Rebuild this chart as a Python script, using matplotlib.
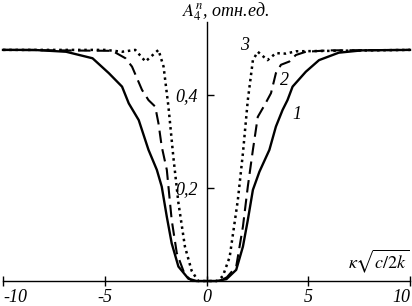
import matplotlib
matplotlib.use("Agg")
import matplotlib.pyplot as plt

plt.rcParams['mathtext.fontset'] = 'stix'

x1 = [-10, -8.5, -6.9, -5.6, -4.8, -4.15, -3.82, -3.33, -2.85, -2.44, -2.2, -1.95, -1.71, -1.38, -0.89, -0.5, 0,
      0.5, 0.98, 1.46, 1.79, 2.03, 2.28, 2.6, 3.09, 3.41, 3.74, 3.98, 4.23, 4.88, 5.53, 6.5, 7.64, 10]
y1 = [0.497, 0.497, 0.493, 0.479, 0.447, 0.418, 0.382, 0.346, 0.282, 0.239, 0.203, 0.138, 0.081, 0.031, 0.005, 0.0, 0.0,
      0.0, 0.004, 0.024, 0.074, 0.131, 0.196, 0.235, 0.282, 0.332, 0.368, 0.389, 0.418, 0.45, 0.475, 0.491, 0.496, 0.497]

x2 = [-10, -4.63, -3.98, -3.66, -3.17, -2.85, -2.52, -2.36, -2.2, -1.95, -1.71, -1.46, -1.06, -0.7, 0,
      0.65, 1.0, 1.46, 1.79, 2.03, 2.28, 2.52, 2.85, 3.17, 3.41, 3.66, 4.07, 4.39, 4.88, 6, 10]
y2 = [0.497, 0.495, 0.479, 0.461, 0.411, 0.389, 0.375, 0.339, 0.289, 0.239, 0.131, 0.06, 0.013, 0.0, 0.0,
      0.0, 0.008, 0.031, 0.117, 0.203, 0.282, 0.353, 0.378, 0.404, 0.447, 0.465, 0.472, 0.486, 0.493, 0.496, 0.497]

x3 = [-10, -4.96, -4.15, -3.5, -3.0, -2.36, -2.11, -1.87, -1.63, -1.38, -1.06, -0.73, -0.41, 0,
      0.5, 0.8, 1.14, 1.54, 1.79, 2.03, 2.28, 2.52, 3.0, 3.41, 3.9, 4.39, 10]
y3 = [0.497, 0.497, 0.493, 0.497, 0.472, 0.497, 0.461, 0.375, 0.267, 0.168, 0.074, 0.022, 0.0, 0.0,
      0.0, 0.01, 0.052, 0.174, 0.275, 0.389, 0.475, 0.493, 0.475, 0.49, 0.489, 0.494, 0.497]

xticks = [-10, -5, 0, 5, 10]
xticklabels = ['-10', '-5', '0', '5', '10']
yticks = [0.2, 0.4]
yticklabels = ['0,2', '0,4']
curve_labels = ['1', '2', '3']
label_pos = [(4.44, 0.357), (3.85, 0.432), (1.85, 0.507)]

fig = plt.figure(figsize=(4.12, 3.06), dpi=100)
ax = fig.add_axes([3/412, 25/306, 407/412, 1 - 22/306 - 25/306])
ax.set_xlim(-10, 10)
ax.set_ylim(0, 0.557)

ax.plot(x1, y1, color='black', lw=1.7, ls='-', clip_on=False)
ax.plot(x2, y2, color='black', lw=1.5, ls=(0, (6, 3)), clip_on=False)
ax.plot(x3, y3, color='black', lw=1.8, ls=(0, (1, 1.5)), clip_on=False)

for t, (px, py) in zip(curve_labels, label_pos):
    ax.text(px, py, t, fontfamily='Liberation Serif', fontstyle='italic', fontsize=13,
            ha='center', va='center')

for s in ['top', 'right']:
    ax.spines[s].set_visible(False)
ax.spines['left'].set_position(('data', 0))
ax.spines['bottom'].set_position(('data', 0))
ax.spines['left'].set_linewidth(1.0)
ax.spines['bottom'].set_linewidth(1.0)

ax.set_xticks(xticks)
ax.set_xticklabels(xticklabels, fontfamily='Liberation Serif', fontstyle='italic', fontsize=13)
tl = ax.get_xticklabels()
tl[0].set_horizontalalignment('left')
tl[-1].set_horizontalalignment('right')
ax.set_yticks(yticks)
ax.set_yticklabels(yticklabels, fontfamily='Liberation Serif', fontstyle='italic', fontsize=13)
ax.tick_params(axis='x', direction='inout', length=7, width=1, pad=2)
ax.tick_params(axis='y', direction='in', length=5, width=1, pad=6)

ax.text(9.95, 0.012, r'$\kappa\sqrt{c/2k}$', ha='right', va='bottom', fontsize=13,
        fontfamily='Liberation Serif')
fig.text(182/412, 1 - 12/306, r'$A_4^n$, отн.ед.', ha='left', va='center', fontsize=13,
         fontfamily='Liberation Serif', fontstyle='italic')

fig.savefig('out.png', dpi=100)
